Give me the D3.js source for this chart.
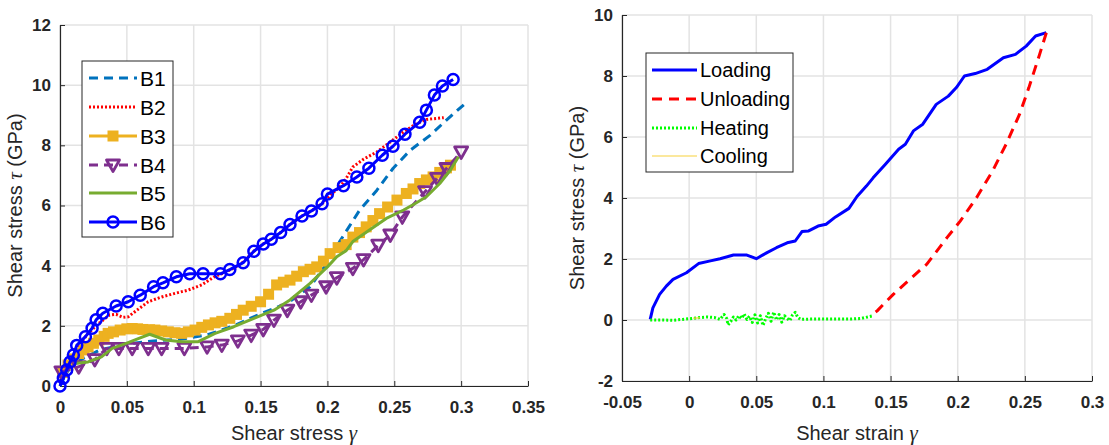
<!DOCTYPE html>
<html>
<head>
<meta charset="utf-8">
<script src="https://cdn.jsdelivr.net/npm/d3@7"></script>
<style>
  body { margin: 0; background: #fff; }
  svg { display: block; font-family: "Liberation Sans", Arial, sans-serif; }
</style>
</head>
<body>
<svg id="chart" width="1109" height="445"></svg>
<script>
// ---- data: left panel (gamma, tau) ----
var b1 = [[0,0],[0.005,0.45],[0.011,0.78],[0.03,1.2],[0.05,1.4],[0.07,1.5],[0.09,1.55],[0.11,1.7],[0.13,2.0],[0.15,2.4],[0.17,2.75],[0.187,3.3],[0.2,4.1],[0.209,4.79],[0.224,5.84],[0.237,6.51],[0.249,7.23],[0.262,7.84],[0.277,8.34],[0.289,8.84],[0.303,9.39]];
var b2 = [[0,0.1],[0.005,0.55],[0.01,1.0],[0.015,1.4],[0.021,1.75],[0.029,2.08],[0.037,2.36],[0.042,2.38],[0.047,2.28],[0.051,2.3],[0.056,2.47],[0.066,2.8],[0.076,2.96],[0.086,3.08],[0.096,3.19],[0.106,3.36],[0.115,3.62],[0.122,3.75],[0.13,3.92],[0.137,4.12],[0.145,4.48],[0.152,4.72],[0.158,4.88],[0.165,5.1],[0.172,5.37],[0.181,5.65],[0.188,5.82],[0.196,6.06],[0.203,6.38],[0.209,6.6],[0.214,6.9],[0.219,7.28],[0.227,7.54],[0.237,7.78],[0.247,8.11],[0.257,8.45],[0.267,8.73],[0.274,8.86],[0.287,8.92]];
var b3 = [[0.002,0.45],[0.006,0.7],[0.01,0.9],[0.014,1.08],[0.018,1.2],[0.021,1.3],[0.025,1.42],[0.029,1.53],[0.033,1.65],[0.036,1.75],[0.04,1.8],[0.045,1.86],[0.05,1.9],[0.054,1.91],[0.058,1.9],[0.062,1.88],[0.067,1.87],[0.071,1.86],[0.076,1.83],[0.081,1.8],[0.086,1.77],[0.091,1.75],[0.096,1.8],[0.101,1.86],[0.106,1.95],[0.111,2.03],[0.116,2.1],[0.121,2.15],[0.127,2.25],[0.132,2.38],[0.137,2.52],[0.143,2.65],[0.15,2.8],[0.156,3.05],[0.162,3.36],[0.167,3.45],[0.172,3.52],[0.177,3.65],[0.182,3.8],[0.187,3.88],[0.192,3.96],[0.197,4.15],[0.202,4.4],[0.208,4.6],[0.214,4.7],[0.219,4.95],[0.224,5.1],[0.229,5.29],[0.234,5.5],[0.239,5.73],[0.245,5.95],[0.252,6.18],[0.259,6.4],[0.264,6.55],[0.269,6.73],[0.274,6.85],[0.279,6.95],[0.284,7.1],[0.289,7.25],[0.292,7.34]];
var b4 = [[0.001,0.47],[0.014,0.64],[0.026,0.88],[0.035,1.25],[0.044,1.25],[0.054,1.25],[0.066,1.25],[0.076,1.25],[0.093,1.25],[0.11,1.3],[0.121,1.36],[0.133,1.5],[0.143,1.69],[0.152,1.88],[0.16,2.19],[0.17,2.52],[0.18,2.8],[0.188,3.02],[0.199,3.3],[0.207,3.6],[0.219,3.91],[0.227,4.2],[0.238,4.68],[0.247,5.02],[0.256,5.62],[0.273,6.46],[0.282,6.9],[0.289,7.23],[0.3,7.78]];
var b5 = [[0.011,0.75],[0.021,0.8],[0.031,0.97],[0.039,1.25],[0.049,1.41],[0.059,1.58],[0.067,1.72],[0.079,1.53],[0.091,1.47],[0.103,1.47],[0.116,1.75],[0.13,1.97],[0.145,2.25],[0.16,2.52],[0.172,2.86],[0.187,3.41],[0.2,3.96],[0.207,4.3],[0.214,4.5],[0.219,4.8],[0.232,5.2],[0.244,5.57],[0.257,5.85],[0.265,6.05],[0.274,6.29],[0.284,6.73],[0.292,7.18],[0.298,7.62]];
var b6 = [[0,0],[0.0025,0.26],[0.005,0.53],[0.0075,0.8],[0.01,1.03],[0.0125,1.35],[0.019,1.64],[0.024,1.92],[0.027,2.2],[0.032,2.42],[0.042,2.66],[0.051,2.8],[0.06,3.02],[0.07,3.3],[0.077,3.43],[0.087,3.63],[0.097,3.73],[0.107,3.73],[0.12,3.73],[0.127,3.87],[0.137,4.1],[0.145,4.48],[0.152,4.72],[0.158,4.88],[0.165,5.1],[0.172,5.37],[0.181,5.65],[0.188,5.82],[0.196,6.06],[0.2,6.38],[0.212,6.66],[0.222,6.95],[0.231,7.24],[0.241,7.67],[0.249,7.97],[0.258,8.37],[0.269,8.77],[0.274,9.17],[0.28,9.67],[0.286,9.97],[0.294,10.19]];

// ---- data: right panel ----
var loading = [[-0.029,0.02],[-0.027,0.4],[-0.022,0.84],[-0.017,1.11],[-0.012,1.33],[-0.002,1.55],[0.007,1.85],[0.015,1.93],[0.023,2.01],[0.033,2.13],[0.043,2.13],[0.05,2.01],[0.058,2.21],[0.065,2.37],[0.073,2.53],[0.079,2.59],[0.084,2.9],[0.089,2.92],[0.096,3.08],[0.102,3.14],[0.109,3.38],[0.119,3.66],[0.125,4.05],[0.132,4.39],[0.137,4.66],[0.146,5.1],[0.156,5.6],[0.161,5.76],[0.167,6.2],[0.174,6.42],[0.184,7.07],[0.193,7.34],[0.199,7.62],[0.205,8.0],[0.213,8.08],[0.222,8.22],[0.234,8.6],[0.243,8.71],[0.251,8.98],[0.258,9.31],[0.266,9.42]];
var unloading = [[0.266,9.42],[0.261,8.71],[0.253,7.62],[0.246,6.74],[0.236,5.76],[0.226,4.89],[0.214,4.01],[0.202,3.25],[0.192,2.7],[0.177,1.83],[0.167,1.44],[0.152,0.84],[0.14,0.3],[0.135,0.13]];
var heating = [[-0.029,0],[-0.02,0.0],[-0.012,-0.01],[-0.005,0.02],[0.002,0.05],[0.008,0.08],[0.014,0.1],[0.019,0.08],[0.023,0.02],[0.026,0.18],[0.028,0.05],[0.029,-0.16],[0.031,-0.05],[0.033,0.1],[0.035,0.0],[0.037,0.14],[0.039,0.05],[0.041,0.2],[0.043,0.02],[0.045,0.12],[0.047,-0.08],[0.049,0.17],[0.051,-0.1],[0.053,0.14],[0.055,-0.18],[0.057,0.05],[0.059,0.22],[0.061,-0.04],[0.063,0.26],[0.065,0.0],[0.067,0.18],[0.069,-0.07],[0.071,0.14],[0.073,0.05],[0.075,-0.02],[0.077,0.17],[0.079,0.25],[0.081,0.08],[0.083,0.02],[0.09,0.03],[0.1,0.03],[0.11,0.03],[0.12,0.03],[0.128,0.05],[0.133,0.1],[0.136,0.13]];
var cooling = [[0.003,0.06],[0.008,0.07]];

var leftXTicks = [0,0.05,0.1,0.15,0.2,0.25,0.3,0.35];
var leftYTicks = [0,2,4,6,8,10,12];
var rightXTicks = [-0.05,0,0.05,0.1,0.15,0.2,0.25,0.3];
var rightYTicks = [-2,0,2,4,6,8,10];
var leftNames = ['B1','B2','B3','B4','B5','B6'];
var rightNames = ['Loading','Unloading','Heating','Cooling'];

var svg = d3.select('#chart');
var axisColor = '#262626';
var fmt = function (d) { return String(+d.toFixed(2)); };

function panel(xDomain, xRange, yDomain, yRange, xTicks, yTicks, xLabel) {
  var x = d3.scaleLinear().domain(xDomain).range(xRange);
  var y = d3.scaleLinear().domain(yDomain).range(yRange);
  var g = svg.append('g');

  // grid
  g.append('g').selectAll('line').data(xTicks).enter().append('line')
    .attr('x1', function (d) { return x(d); }).attr('x2', function (d) { return x(d); })
    .attr('y1', yRange[0]).attr('y2', yRange[1])
    .attr('stroke', '#e3e3e3').attr('stroke-width', 1.5);
  g.append('g').selectAll('line').data(yTicks).enter().append('line')
    .attr('y1', function (d) { return y(d); }).attr('y2', function (d) { return y(d); })
    .attr('x1', xRange[0]).attr('x2', xRange[1])
    .attr('stroke', '#e3e3e3').attr('stroke-width', 1.5);

  var xa = g.append('g').attr('transform', 'translate(0,' + yRange[0] + ')')
    .call(d3.axisBottom(x).tickValues(xTicks).tickFormat(fmt).tickSizeInner(-5).tickSizeOuter(0).tickPadding(11));
  var ya = g.append('g').attr('transform', 'translate(' + xRange[0] + ',0)')
    .call(d3.axisLeft(y).tickValues(yTicks).tickFormat(fmt).tickSizeInner(-5).tickSizeOuter(0).tickPadding(9));
  [xa, ya].forEach(function (a) {
    a.select('.domain').attr('stroke', axisColor).attr('stroke-width', 1.2);
    a.selectAll('.tick line').attr('stroke', axisColor);
    a.selectAll('.tick text').attr('fill', axisColor)
      .style('font-size', '17px').style('font-weight', 'bold')
      .style('font-family', '"Liberation Sans", Arial, sans-serif');
  });
  xa.selectAll('.tick text').attr('dy', '0.95em');

  // axis labels
  var xl = g.append('text').attr('x', (xRange[0] + xRange[1]) / 2).attr('y', 440)
    .attr('text-anchor', 'middle').attr('fill', axisColor).style('font-size', '20px');
  xl.append('tspan').text(xLabel + ' ');
  xl.append('tspan').text('γ').style('font-family', '"Liberation Serif", serif').style('font-style', 'italic').style('font-size', '21px');

  var yl = g.append('text')
    .attr('transform', 'translate(' + (xRange[0] - 38) + ',' + ((yRange[0] + yRange[1]) / 2) + ') rotate(-90)')
    .attr('text-anchor', 'middle').attr('fill', axisColor).style('font-size', '20px');
  yl.append('tspan').text('Shear stress ');
  yl.append('tspan').text('τ').style('font-family', '"Liberation Serif", serif').style('font-style', 'italic').style('font-size', '21px');
  yl.append('tspan').text(' (GPa)');

  return { g: g, x: x, y: y };
}

function drawLine(p, data, color, width, dash) {
  var line = d3.line().x(function (d) { return p.x(d[0]); }).y(function (d) { return p.y(d[1]); });
  p.g.append('path').datum(data).attr('d', line)
    .attr('fill', 'none').attr('stroke', color).attr('stroke-width', width)
    .attr('stroke-dasharray', dash || null).attr('stroke-linejoin', 'round');
}

function marker(sel, kind, color) {
  if (kind === 'circle') {
    sel.append('circle').attr('r', 5.5).attr('fill', 'none').attr('stroke', color).attr('stroke-width', 2.5);
  } else if (kind === 'square') {
    sel.append('rect').attr('x', -5.5).attr('y', -5.5).attr('width', 11).attr('height', 11).attr('fill', color);
  } else if (kind === 'tri') {
    sel.append('path').attr('d', 'M-6.5,-5L6.5,-5L0,6.5Z').attr('fill', 'none')
      .attr('stroke', color).attr('stroke-width', 2.8).attr('stroke-linejoin', 'round');
  }
}

function drawMarkers(p, data, kind, color) {
  p.g.append('g').selectAll('g').data(data).enter().append('g')
    .attr('transform', function (d) { return 'translate(' + p.x(d[0]) + ',' + p.y(d[1]) + ')'; })
    .each(function () { marker(d3.select(this), kind, color); });
}

function legend(box, names, styles, rowY, lineX, textX, size) {
  svg.append('rect').attr('x', box[0]).attr('y', box[1]).attr('width', box[2]).attr('height', box[3])
    .attr('fill', '#fff').attr('stroke', axisColor).attr('stroke-width', 1);
  names.forEach(function (n, i) {
    var s = styles[i];
    var yy = rowY[i];
    svg.append('line').attr('x1', lineX[0]).attr('x2', lineX[1]).attr('y1', yy).attr('y2', yy)
      .attr('stroke', s.color).attr('stroke-width', s.width).attr('stroke-dasharray', s.dash || null);
    if (s.marker) {
      marker(svg.append('g').attr('transform', 'translate(' + ((lineX[0] + lineX[1]) / 2) + ',' + yy + ')'), s.marker, s.color);
    }
    svg.append('text').attr('x', textX).attr('y', yy).attr('dy', '0.36em')
      .attr('fill', '#000').style('font-size', size + 'px').text(n);
  });
}

// ---- left panel ----
var L = panel([0, 0.35], [60, 528], [0, 12], [386, 25], leftXTicks, leftYTicks, 'Shear stress');
var leftStyles = [
  { color: '#0072BD', width: 3, dash: '9,6' },
  { color: '#FF0000', width: 3, dash: '2,2' },
  { color: '#EDB120', width: 3, marker: 'square' },
  { color: '#7E2F8E', width: 3, dash: '9,6', marker: 'tri' },
  { color: '#77AC30', width: 3 },
  { color: '#0000FF', width: 3, marker: 'circle' }
];
var leftData = [b1, b2, b3, b4, b5, b6];
leftData.forEach(function (d, i) {
  var s = leftStyles[i];
  drawLine(L, d, s.color, s.width, s.dash);
  if (s.marker) drawMarkers(L, d, s.marker, s.color);
});
legend([82, 61, 91, 176], leftNames, leftStyles, [78, 107, 136, 165, 193, 222], [89, 137], 140, 21);

// ---- right panel ----
var R = panel([-0.05, 0.3], [622, 1092], [-2, 10], [381, 15], rightXTicks, rightYTicks, 'Shear strain');
var rightStyles = [
  { color: '#0000FF', width: 3 },
  { color: '#FF0000', width: 3, dash: '10,7' },
  { color: '#00FF00', width: 3, dash: '2,2' },
  { color: '#F7D23C', width: 1.2 }
];
[loading, unloading, heating, cooling].forEach(function (d, i) {
  var s = rightStyles[i];
  drawLine(R, d, s.color, s.width, s.dash);
});
legend([646, 53, 147, 119], rightNames, rightStyles, [70, 99, 128, 156], [652, 697], 700, 20);
</script>
</body>
</html>
